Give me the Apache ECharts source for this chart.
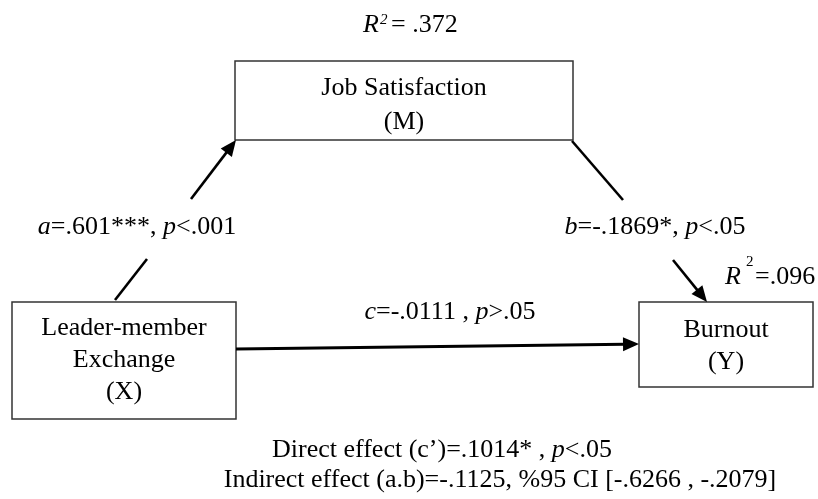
<!DOCTYPE html>
<html>
<head>
<meta charset="utf-8">
<script src="https://cdn.jsdelivr.net/npm/echarts@6/dist/echarts.min.js"></script>
<style>
html, body { margin: 0; padding: 0; background: #fff; }
#main { width: 818px; height: 499px; }
</style>
</head>
<body>
<div id="main"></div>
<script type="text/javascript">
// model content
var nodeNameLines = [['Job Satisfaction'], ['Leader-member', 'Exchange'], ['Burnout']];
var nodeCodes = ['M', 'X', 'Y'];
var pathLetters = ['a', 'b', 'c'];
var pathCoefs = ['.601***', '-.1869*', '-.0111 '];
var pathSigns = ['<', '<', '>'];
var pathPValues = ['.001', '.05', '.05'];
var rSquared = ['.372', '.096'];
var directEffect = ['.1014*', '<', '.05'];
var indirectEffect = '-.1125';
var ciLevel = '%95';
var ciBounds = ['-.6266', '-.2079'];

// layout of the diagram (canvas units)
var layout = {
    boxes: [[235, 61, 573, 140], [12, 302, 236, 419], [639, 302, 813, 387]],
    nodeTextY: [[88, 122], [328, 360, 392], [330, 362]],
    pathLabels: [[137, 227], [655, 227], [450, 312]],
    // each path: list of segments, last one carries the arrow
    paths: [
        [[[115, 300], [147, 259]], [[191, 199], [236, 140]]],
        [[[572, 141], [623, 200]], [[673, 260], [707, 302]]],
        [[[236, 349], [639, 344]]]
    ],
    pathWidth: [2.6, 2.6, 3]
};

var FONT = '"Liberation Serif", "Times New Roman", serif';
var rich = {
    n: { fontFamily: FONT, fontSize: 26, fill: '#000', fontStyle: 'normal' },
    i: { fontFamily: FONT, fontSize: 26, fill: '#000', fontStyle: 'italic' }
};

function pathText(k) {
    return '{i|' + pathLetters[k] + '}{n|=' + pathCoefs[k] + ', }{i|p}{n|' + pathSigns[k] + pathPValues[k] + '}';
}

function txt(text, x, y, align, opt) {
    opt = opt || {};
    return {
        type: 'text',
        style: {
            text: text, x: x, y: y,
            align: align || 'center', verticalAlign: 'middle',
            fontFamily: FONT, fontSize: opt.size || 26,
            fontStyle: opt.italic ? 'italic' : 'normal',
            fill: '#000', rich: rich
        }
    };
}

function renderItem(params, api) {
    var p = function (pt) { return api.coord(pt); };
    var children = [];

    // boxes + node names
    layout.boxes.forEach(function (b, k) {
        var a = p([b[0], b[1]]), c = p([b[2], b[3]]);
        children.push({
            type: 'rect',
            shape: { x: a[0], y: a[1], width: c[0] - a[0], height: c[1] - a[1] },
            style: { fill: '#fff', stroke: '#333', lineWidth: 1.5 }
        });
        var lines = nodeNameLines[k].concat(['(' + nodeCodes[k] + ')']);
        var cx = (a[0] + c[0]) / 2;
        lines.forEach(function (s, j) {
            children.push(txt(s, cx, p([0, layout.nodeTextY[k][j]])[1]));
        });
    });

    // arrows
    layout.paths.forEach(function (segs, k) {
        segs.forEach(function (sg, j) {
            var s = p(sg[0]), e = p(sg[1]);
            var last = j === segs.length - 1;
            var dx = e[0] - s[0], dy = e[1] - s[1];
            var len = Math.sqrt(dx * dx + dy * dy);
            var ux = dx / len, uy = dy / len;
            var L = 16, W = 7;
            var end = last ? [e[0] - ux * (L - 2), e[1] - uy * (L - 2)] : e;
            children.push({
                type: 'line',
                shape: { x1: s[0], y1: s[1], x2: end[0], y2: end[1] },
                style: { stroke: '#000', lineWidth: layout.pathWidth[k] }
            });
            if (last) {
                var bx = e[0] - ux * L, by = e[1] - uy * L;
                children.push({
                    type: 'polygon',
                    shape: { points: [[e[0], e[1]], [bx - uy * W, by + ux * W], [bx + uy * W, by - ux * W]] },
                    style: { fill: '#000' }
                });
            }
        });
        var lp = p(layout.pathLabels[k]);
        children.push(txt(pathText(k), lp[0], lp[1]));
    });

    // R squared of mediator
    var r1 = p([379, 25]);
    children.push(txt('R', r1[0], r1[1], 'right', { italic: true }));
    children.push(txt('2', r1[0] + 1, r1[1] - 5, 'left', { size: 15, italic: true }));
    children.push(txt('= ' + rSquared[0], r1[0] + 12, r1[1], 'left'));

    // R squared of outcome
    var r2 = p([741, 277]);
    children.push(txt('R', r2[0], r2[1], 'right', { italic: true }));
    children.push(txt('2', r2[0] + 5, r2[1] - 15, 'left', { size: 15 }));
    children.push(txt('=' + rSquared[1], r2[0] + 14, r2[1], 'left'));

    // effects
    var d = p([442, 450]);
    children.push(txt('{n|Direct effect (c\u2019)=' + directEffect[0] + ' , }{i|p}{n|' + directEffect[1] + directEffect[2] + '}', d[0], d[1]));
    var ind = p([500, 480]);
    children.push(txt('{n|Indirect effect (a.b)=' + indirectEffect + ', ' + ciLevel + ' CI [' + ciBounds[0] + ' , ' + ciBounds[1] + ']}', ind[0], ind[1]));

    return { type: 'group', children: children };
}

var myChart = echarts.init(document.getElementById('main'));
var option = {
    animation: false,
    backgroundColor: '#fff',
    grid: { left: 0, right: 0, top: 0, bottom: 0 },
    xAxis: { type: 'value', min: 0, max: 818, show: false },
    yAxis: { type: 'value', min: 0, max: 499, inverse: true, show: false },
    series: [{
        type: 'custom',
        renderItem: renderItem,
        clip: false,
        data: [[0, 0]]
    }]
};
myChart.setOption(option);
</script>
</body>
</html>
